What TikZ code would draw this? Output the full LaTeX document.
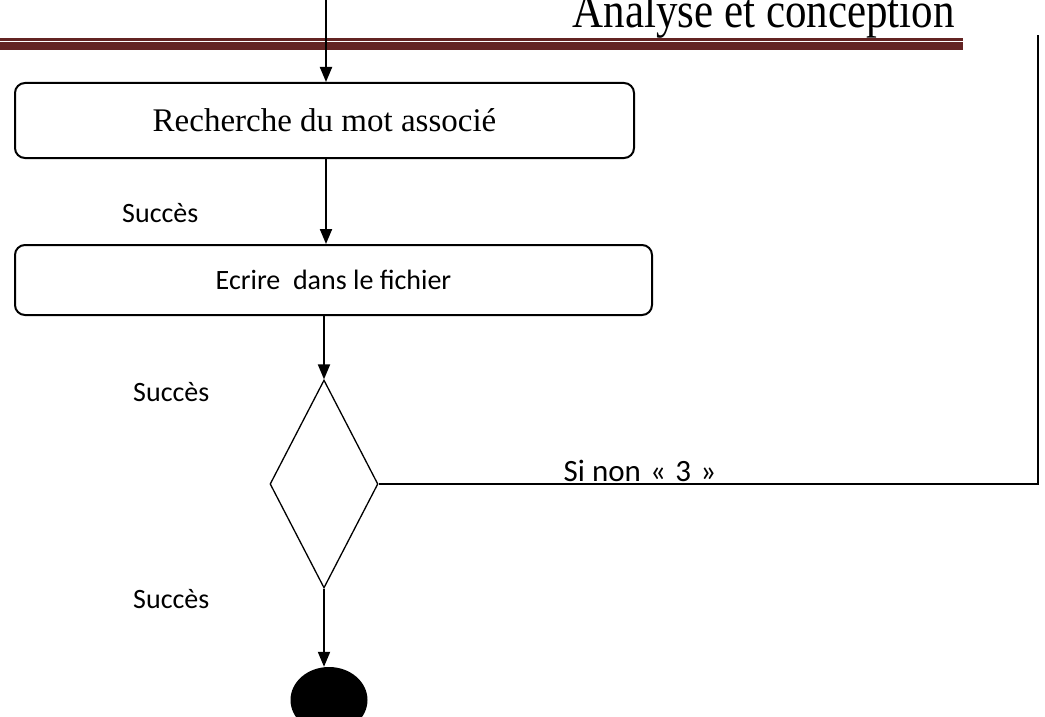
\documentclass[tikz,border=0pt]{standalone}
\usepackage{fontspec}
\setmainfont{Liberation Serif}
\newfontfamily\calibri{Carlito}
\newfontfamily\hdrfont[FakeStretch=0.86]{Liberation Serif}
\usetikzlibrary{arrows.meta,shapes.geometric}
\definecolor{hdrred}{HTML}{632423}
\begin{document}
\begin{tikzpicture}[x=1pt,y=-1pt,
  actbox/.style={draw,line width=2pt,rounded corners=10pt,inner sep=0pt},
  flow/.style={line width=2pt,-{Triangle[width=12pt,length=15pt]}},
  plain/.style={line width=2pt},
  lbl/.style={font=\calibri\fontsize{28}{32}\selectfont,inner sep=0pt},
]
\useasboundingbox (0,0) rectangle (1045,717);
\clip (0,0) rectangle (1045,717);

% page header
\fill[hdrred] (0,38.5) rectangle (963,40.7);
\fill[hdrred] (0,42.2) rectangle (963,50.5);
\node[anchor=base east,inner sep=0pt,font=\hdrfont\fontsize{50}{54}\selectfont] (hdr) at (955,28) {Analyse et conception};

% activities
\node[actbox,minimum width=619pt,minimum height=75pt,font=\fontsize{33}{36}\selectfont]
  (rech) at (324.5,120.5) {Recherche du mot associé};
\node[actbox,minimum width=637pt,minimum height=70pt,font=\calibri\fontsize{28}{32}\selectfont]
  (ecr) at (333.5,280) {Ecrire\ \ dans le fichier};
\node[draw,diamond,line width=1.3pt,minimum width=108pt,minimum height=208pt,inner sep=0pt]
  (dec) at (324,484) {};
\node[ellipse,fill=black,minimum width=77pt,minimum height=66pt,inner sep=0pt]
  (fin) at (329,700) {};

\coordinate (in) at (326,0);
\coordinate (loop) at (1038,35);

% labels
\node[lbl,anchor=west] (s1) at (122,213) {Succès};
\node[lbl,anchor=west] (s2) at (133,392) {Succès};
\node[lbl,anchor=west] (s3) at (133,599) {Succès};
\node[lbl,font=\calibri\fontsize{31}{34}\selectfont] (sinon) at (640,471) {Si non\hspace{0.3em}«\hspace{0.3em}3\hspace{0.3em}»};

% connectors
\draw[flow] (in) -- (in |- rech.north);
\draw[flow] (rech.south -| in) -- (ecr.north -| in);
\draw[flow] (ecr.south -| dec.north) -- (dec.north);
\draw[flow] (dec.south) -- (dec.south |- fin.north);
\draw[plain] (dec.east) -- (dec.east -| loop) -- (loop);
\end{tikzpicture}
\end{document}
